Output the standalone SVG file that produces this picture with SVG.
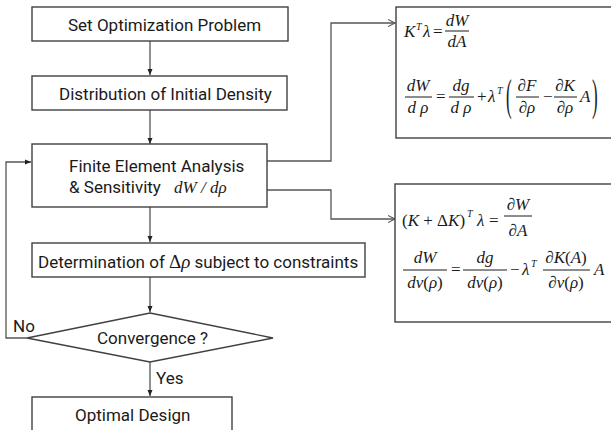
<svg xmlns="http://www.w3.org/2000/svg" width="611" height="430" viewBox="0 0 611 430">
<style>
.box{fill:#fff;stroke:#404040;stroke-width:1.4}
.lbl{font-family:Roboto,"Noto Sans",sans-serif;font-size:17px;fill:#1a1a1a}
.m{font-family:"Liberation Serif","Times New Roman",serif;font-size:17px;fill:#1a1a1a}
.i{font-style:italic}
.sup{font-size:10px}
.con{fill:none;stroke:#555;stroke-width:1.3}
.bar{stroke:#1a1a1a;stroke-width:1}
</style>
<defs>
<marker id="ah" markerUnits="userSpaceOnUse" markerWidth="8" markerHeight="8" refX="6" refY="4" orient="auto">
<path d="M0,1.5 L6,4 L0,6.5 z" fill="#222"/>
</marker>
<marker id="oa" markerUnits="userSpaceOnUse" markerWidth="10" markerHeight="10" refX="7" refY="4" orient="auto">
<path d="M0,0.5 L7,4 L0,7.5" fill="none" stroke="#555" stroke-width="1.1"/>
</marker>
</defs>

<g id="connectors">
<path class="con" d="M150,41 V75" marker-end="url(#ah)"/>
<path class="con" d="M150,110 V144" marker-end="url(#ah)"/>
<path class="con" d="M150,207 V242" marker-end="url(#ah)"/>
<path class="con" d="M150,277 V312" marker-end="url(#ah)"/>
<path class="con" d="M150,362 V396" marker-end="url(#ah)"/>
<path class="con" d="M27,338 H6 V162 H31" marker-end="url(#ah)"/>
<path class="con" d="M267,161 H331 V23 H395" marker-end="url(#oa)"/>
<path class="con" d="M267,190 H331 V219 H395" marker-end="url(#oa)"/>
</g>

<g id="n1">
<rect class="box" x="32" y="7" width="256" height="34"/>
<text class="lbl" x="68" y="31">Set Optimization Problem</text>
</g>
<g id="n2">
<rect class="box" x="32" y="76" width="255" height="34"/>
<text class="lbl" x="59" y="100">Distribution of Initial Density</text>
</g>
<g id="n3">
<rect class="box" x="32" y="144" width="235" height="63"/>
<text class="lbl" x="69" y="172">Finite Element Analysis</text>
<text class="lbl" x="69" y="193">&amp; Sensitivity</text>
<text class="m i" x="174" y="193">dW / dρ</text>
</g>
<g id="n4">
<rect class="box" x="32" y="243" width="333" height="34"/>
<text class="lbl" x="38" y="268">Determination of <tspan class="m" style="font-size:19px">Δ</tspan><tspan class="m i" style="font-size:19px">ρ</tspan> subject to constraints</text>
</g>
<g id="n5">
<polygon class="box" points="150,313 273,338 150,362 27,338"/>
<text class="lbl" x="97" y="344">Convergence ?</text>
</g>
<g id="n6">
<rect class="box" x="32" y="397" width="200" height="40"/>
<text class="lbl" x="75" y="421">Optimal Design</text>
</g>
<text class="lbl" x="13" y="332">No</text>
<text class="lbl" x="156" y="384">Yes</text>

<g id="f1">
<rect class="box" x="396" y="7" width="220" height="131"/>
<text class="m i" x="404" y="37">K</text>
<text class="m i sup" x="416" y="30">T</text>
<text class="m i" x="423" y="37">λ</text>
<text class="m" x="433" y="37">=</text>
<text class="m i" x="457" y="26" text-anchor="middle">dW</text>
<line class="bar" x1="445" y1="31" x2="469" y2="31"/>
<text class="m i" x="457" y="47" text-anchor="middle">dA</text>

<text class="m i" x="418" y="91" text-anchor="middle">dW</text>
<line class="bar" x1="405" y1="97" x2="432" y2="97"/>
<text class="m i" x="418" y="113" text-anchor="middle">d ρ</text>
<text class="m" x="436" y="102">=</text>
<text class="m i" x="461" y="91" text-anchor="middle">dg</text>
<line class="bar" x1="449" y1="97" x2="474" y2="97"/>
<text class="m i" x="461" y="113" text-anchor="middle">d ρ</text>
<text class="m" x="477" y="102">+</text>
<text class="m i" x="488" y="102">λ</text>
<text class="m i sup" x="497" y="94">T</text>
<text class="m" x="0" y="0" transform="translate(506,110) scale(1,2.6)">(</text>
<text class="m" x="527" y="91" text-anchor="middle">∂<tspan class="i">F</tspan></text>
<line class="bar" x1="516" y1="97" x2="539" y2="97"/>
<text class="m" x="527" y="113" text-anchor="middle">∂<tspan class="i">ρ</tspan></text>
<text class="m" x="543" y="102">−</text>
<text class="m" x="565" y="91" text-anchor="middle">∂<tspan class="i">K</tspan></text>
<line class="bar" x1="554" y1="97" x2="577" y2="97"/>
<text class="m" x="565" y="113" text-anchor="middle">∂<tspan class="i">ρ</tspan></text>
<text class="m i" x="580" y="102">A</text>
<text class="m" x="0" y="0" transform="translate(592,110) scale(1,2.6)">)</text>
</g>

<g id="f2">
<rect class="box" x="395" y="184" width="221" height="138"/>
<text class="m" x="402" y="226">(<tspan class="i">K</tspan> + Δ<tspan class="i">K</tspan>)</text>
<text class="m i sup" x="467" y="217">T</text>
<text class="m i" x="477" y="226">λ</text>
<text class="m" x="489" y="226">=</text>
<text class="m" x="518" y="210" text-anchor="middle">∂<tspan class="i">W</tspan></text>
<line class="bar" x1="504" y1="216" x2="532" y2="216"/>
<text class="m" x="518" y="236" text-anchor="middle">∂<tspan class="i">A</tspan></text>

<text class="m i" x="425" y="263" text-anchor="middle">dW</text>
<line class="bar" x1="403" y1="270" x2="447" y2="270"/>
<text class="m i" x="425" y="288" text-anchor="middle">dv<tspan font-style="normal">(</tspan>ρ<tspan font-style="normal">)</tspan></text>
<text class="m" x="451" y="275">=</text>
<text class="m i" x="485" y="263" text-anchor="middle">dg</text>
<line class="bar" x1="463" y1="270" x2="507" y2="270"/>
<text class="m i" x="485" y="288" text-anchor="middle">dv<tspan font-style="normal">(</tspan>ρ<tspan font-style="normal">)</tspan></text>
<text class="m" x="510" y="275">−</text>
<text class="m i" x="522" y="275">λ</text>
<text class="m i sup" x="531" y="267">T</text>
<text class="m" x="566" y="263" text-anchor="middle">∂<tspan class="i">K</tspan>(<tspan class="i">A</tspan>)</text>
<line class="bar" x1="543" y1="270" x2="590" y2="270"/>
<text class="m" x="566" y="288" text-anchor="middle">∂<tspan class="i">v</tspan>(<tspan class="i">ρ</tspan>)</text>
<text class="m i" x="594" y="275">A</text>
</g>
</svg>
